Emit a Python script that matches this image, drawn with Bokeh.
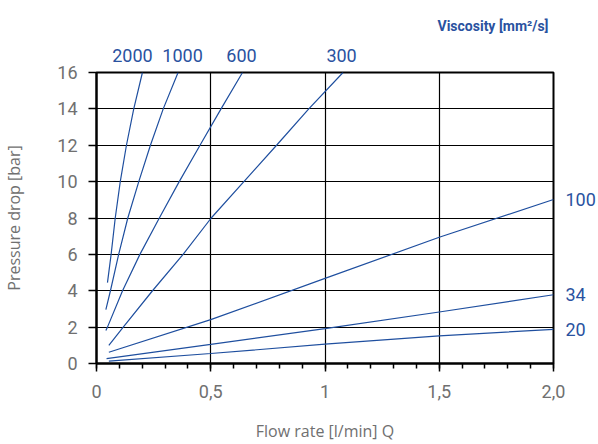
from bokeh.plotting import figure
from bokeh.models import Range1d, FixedTicker, LinearAxis, Title
from bokeh.embed import file_html
from bokeh.resources import INLINE

# Data: flow rate Q [l/min] vs pressure drop [bar] for each viscosity [mm²/s]
flow_2000 = [0.048, 0.064, 0.082, 0.104, 0.131, 0.163, 0.201]
dp_2000 = [4.45, 6.0, 8.0, 10.0, 12.0, 14.0, 16.0]
flow_1000 = [0.041, 0.061, 0.097, 0.137, 0.185, 0.236, 0.292, 0.357]
dp_1000 = [2.96, 4.0, 6.0, 8.0, 10.0, 12.0, 14.0, 16.0]
flow_600 = [0.041, 0.048, 0.114, 0.190, 0.275, 0.362, 0.453, 0.545, 0.639]
dp_600 = [1.81, 2.0, 4.0, 6.0, 8.0, 10.0, 12.0, 14.0, 16.0]
flow_300 = [0.054, 0.117, 0.245, 0.379, 0.502, 0.645, 0.788, 0.929, 1.079]
dp_300 = [0.99, 2.0, 4.0, 6.0, 8.0, 10.0, 12.0, 14.0, 16.0]
flow_100 = [0.054, 0.5, 1.0, 1.5, 2.0]
dp_100 = [0.62, 2.41, 4.68, 6.94, 9.02]
flow_34 = [0.044, 0.5, 1.0, 1.5, 2.0]
dp_34 = [0.27, 1.05, 1.92, 2.83, 3.78]
flow_20 = [0.054, 0.5, 1.0, 1.5, 2.0]
dp_20 = [0.13, 0.55, 1.06, 1.52, 1.88]

top_labels = ["2000", "1000", "600", "300"]
right_labels = ["100", "34", "20"]
x_ticks = [0, 0.5, 1, 1.5, 2]
x_tick_labels = ["0", "0,5", "1", "1,5", "2,0"]
y_ticks = [0, 2, 4, 6, 8, 10, 12, 14, 16]

BLUE = "#1f4f9f"
TXT_BLUE = "#2a52a0"
GRAY = "#707070"

W, H = 598, 444
BL, BR, BT, BB = 96, 45, 72, 80
p = figure(width=W, height=H, output_backend="svg", toolbar_location=None,
           x_range=Range1d(0, 2), y_range=Range1d(0, 16),
           min_border_left=BL, min_border_right=BR, min_border_top=BT, min_border_bottom=BB)
p.outline_line_color = "black"
p.outline_line_width = 2

curves = [(flow_2000, dp_2000), (flow_1000, dp_1000), (flow_600, dp_600), (flow_300, dp_300),
          (flow_100, dp_100), (flow_34, dp_34), (flow_20, dp_20)]
for fx, fy in curves:
    p.line(fx, fy, line_color=BLUE, line_width=1.2)

# main axes
xa = p.xaxis[0]
xa.ticker = FixedTicker(ticks=x_ticks, minor_ticks=[i / 10 for i in range(21)])
xa.major_label_overrides = {t: l for t, l in zip(x_ticks, x_tick_labels)}
xa.axis_label = "Flow rate [l/min] Q"
ya = p.yaxis[0]
ya.ticker = FixedTicker(ticks=y_ticks)
ya.axis_label = "Pressure drop [bar]"
for ax in (xa, ya):
    ax.axis_line_color = "black"
    ax.axis_line_width = 2
    ax.major_tick_line_color = "black"
    ax.major_tick_line_width = 1.5
    ax.major_tick_in = 0
    ax.major_tick_out = 8
    ax.major_label_text_font = "Roboto"
    ax.major_label_text_font_size = "18px"
    ax.major_label_text_color = GRAY
    ax.axis_label_text_font = "Open Sans"
    ax.axis_label_text_font_size = "16px"
    ax.axis_label_text_font_style = "normal"
    ax.axis_label_text_color = GRAY
xa.minor_tick_line_color = "black"
xa.minor_tick_line_width = 1.5
xa.minor_tick_in = 0
xa.minor_tick_out = 5
ya.minor_tick_line_color = None
xa.major_label_standoff = 13
ya.major_label_standoff = 11
xa.axis_label_standoff = 19
ya.axis_label_standoff = 29

p.xgrid.grid_line_color = "black"
p.ygrid.grid_line_color = "black"
p.xgrid.grid_line_width = 1.2
p.ygrid.grid_line_width = 1.2

# viscosity labels at the curve ends, drawn as tick labels of extra axes
px_per_unit = (W - BL - BR) / 2.0
top_dx_px = [-10, 4.5, -1, -1.5]
top_pos = [fx[-1] + dx / px_per_unit for (fx, _), dx in
           zip([(flow_2000, dp_2000), (flow_1000, dp_1000), (flow_600, dp_600), (flow_300, dp_300)], top_dx_px)]
top_ax = LinearAxis(ticker=FixedTicker(ticks=top_pos, minor_ticks=[]),
                    major_label_overrides={t: l for t, l in zip(top_pos, top_labels)})
right_pos = [dp_100[-1], dp_34[-1], dp_20[-1]]
right_ax = LinearAxis(ticker=FixedTicker(ticks=right_pos, minor_ticks=[]),
                      major_label_overrides={t: l for t, l in zip(right_pos, right_labels)})
for ax in (top_ax, right_ax):
    ax.axis_line_color = None
    ax.major_tick_line_color = None
    ax.minor_tick_line_color = None
    ax.major_tick_in = 0
    ax.major_tick_out = 0
    ax.minor_tick_in = 0
    ax.minor_tick_out = 0
    ax.major_label_text_font = "Roboto"
    ax.major_label_text_font_size = "18px"
    ax.major_label_text_color = TXT_BLUE
top_ax.major_label_standoff = 11
right_ax.major_label_standoff = 12
p.add_layout(top_ax, "above")
p.add_layout(right_ax, "right")

p.add_layout(Title(text="Viscosity [mm²/s]", align="right", offset=5, standoff=24,
                   text_font="Roboto", text_font_size="14px",
                   text_font_style="bold", text_color=TXT_BLUE), "above")

open("out.html", "w").write(file_html(p, INLINE))
